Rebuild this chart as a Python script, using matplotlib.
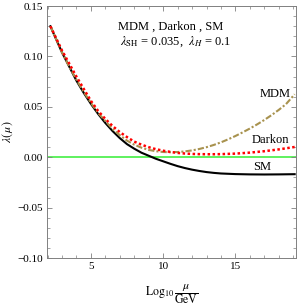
import numpy as np
import matplotlib
matplotlib.use("Agg")
import matplotlib.pyplot as plt
from matplotlib.ticker import MultipleLocator, FuncFormatter

plt.rcParams['font.family'] = ['Liberation Serif', 'DejaVu Serif']
plt.rcParams['mathtext.fontset'] = 'stix'

# log10(mu/GeV) and lambda(mu)
x_sm = [2.2, 2.6, 3.0, 3.5, 4.0, 4.5, 5.0, 5.5, 6.0, 6.5, 7.0, 7.5, 8.0, 8.5, 9.0, 9.5,
        10.0, 10.5, 11.0, 11.5, 12.0, 12.5, 13.0, 13.5, 14.0, 15.0, 16.0, 17.0, 18.0, 19.1]
y_sm = [0.130, 0.117, 0.104, 0.090, 0.076, 0.064, 0.053, 0.043, 0.034, 0.026, 0.019, 0.013,
        0.0085, 0.0045, 0.0015, -0.0015, -0.004, -0.0065, -0.0088, -0.0107, -0.0123, -0.0136,
        -0.0147, -0.0155, -0.0161, -0.0167, -0.0170, -0.0171, -0.0170, -0.0168]

x_dk = [2.2, 2.6, 3.0, 3.5, 4.0, 4.5, 5.0, 5.5, 6.0, 6.5, 7.0, 7.5, 8.0, 8.5, 9.0, 9.5,
        10.0, 10.5, 11.0, 11.5, 12.0, 12.5, 13.0, 13.5, 14.0, 15.0, 16.0, 17.0, 18.0, 19.1]
y_dk = [0.130, 0.118, 0.106, 0.093, 0.080, 0.068, 0.056, 0.046, 0.038, 0.031, 0.025, 0.020,
        0.0155, 0.0125, 0.0100, 0.0080, 0.0065, 0.0053, 0.0043, 0.0037, 0.0033, 0.0031,
        0.0030, 0.0030, 0.0031, 0.0036, 0.0046, 0.0060, 0.0078, 0.0102]

x_mdm = [2.2, 2.6, 3.0, 3.5, 4.0, 4.5, 5.0, 5.5, 6.0, 6.5, 7.0, 7.5, 8.0, 8.5, 9.0, 9.5,
         10.0, 10.5, 11.0, 11.5, 12.0, 12.5, 13.0, 13.5, 14.0, 14.5, 15.0, 15.5, 16.0, 16.5,
         17.0, 17.5, 18.0, 18.5, 19.1]
y_mdm = [0.130, 0.117, 0.104, 0.090, 0.077, 0.065, 0.054, 0.044, 0.036, 0.028, 0.022, 0.0165,
         0.0125, 0.0095, 0.0073, 0.0060, 0.0052, 0.0050, 0.0052, 0.0058, 0.0068, 0.0082,
         0.0100, 0.0122, 0.0148, 0.0178, 0.0211, 0.0247, 0.0285, 0.0326, 0.0370, 0.0418,
         0.0470, 0.0527, 0.0625]

fig = plt.figure(figsize=(3.0, 3.05), dpi=100)
ax = fig.add_axes([0.157, 0.154, 0.83, 0.826])

ax.axhline(0, color='#33ee33', lw=1.1, zorder=1)
ax.plot(x_sm, y_sm, color='black', lw=1.5, zorder=3)
ax.plot(x_dk, y_dk, color='red', lw=1.8, ls=(0, (1, 1)), zorder=4)
ax.plot(x_mdm, y_mdm, color='#a8924e', lw=1.5, ls=(0, (3, 1, 1, 1)), zorder=3)

ax.set_xlim(1.97, 19.2)
ax.set_ylim(-0.10, 0.15)

ax.xaxis.set_major_locator(MultipleLocator(5))
ax.xaxis.set_minor_locator(MultipleLocator(1))
ax.yaxis.set_major_locator(MultipleLocator(0.05))
ax.yaxis.set_minor_locator(MultipleLocator(0.01))
ax.yaxis.set_major_formatter(FuncFormatter(lambda v, p: ('%.2f' % v).replace('-', '\u2212')))
ax.tick_params(which='both', direction='in', top=True, right=True, colors='#808080',
               labelcolor='black', labelsize=8)
ax.tick_params(which='major', length=3.5, width=0.6, pad=3)
ax.tick_params(which='minor', length=2, width=0.5)
for s in ax.spines.values():
    s.set_color('#808080')
    s.set_linewidth(0.7)

ax.text(16.7, 0.063, 'MDM', fontsize=9, va='center')
ax.text(16.1, 0.017, 'Darkon', fontsize=9, va='center')
ax.text(16.2, -0.0098, 'SM', fontsize=9, va='center')

ax.text(10.5, 0.130, 'MDM , Darkon , SM', fontsize=9, ha='center', va='center')
ax.text(10.9, 0.115, r'$\lambda_{\rm SH}$ = 0.035,  $\lambda_{H}$ = 0.1', fontsize=9,
        ha='center', va='center')

ax.set_ylabel(r'$\lambda(\,\mu)$', fontsize=8.5, labelpad=2)
ax.set_xlabel(r'$\mathrm{Log}_{10}\,\dfrac{\mu}{\mathrm{GeV}}$', fontsize=8.5, labelpad=8)

fig.savefig('out.png', dpi=100)
